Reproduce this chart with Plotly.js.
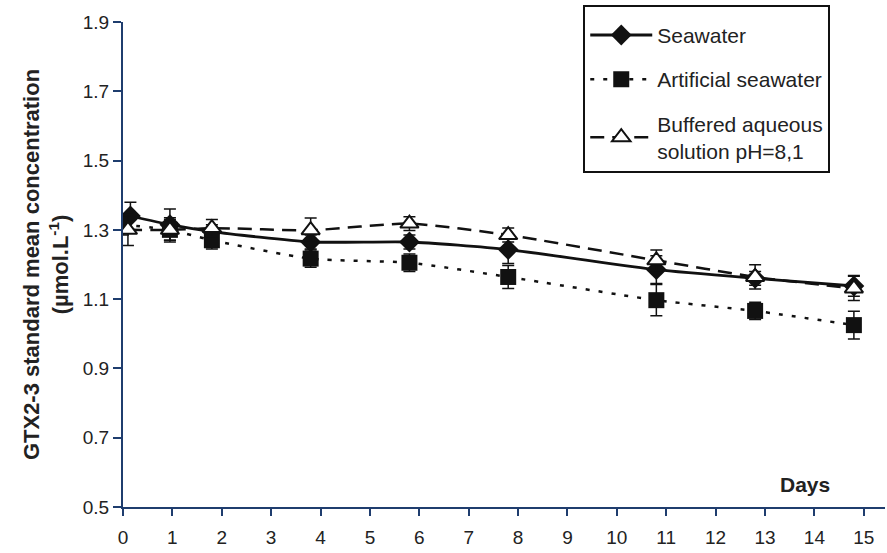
<!DOCTYPE html>
<html>
<head>
<meta charset="utf-8">
<script src="https://cdn.plot.ly/plotly-3.0.1.min.js"></script>
<style>
html,body{margin:0;padding:0;background:#fff;}
#chart{width:887px;height:553px;}
</style>
</head>
<body>
<div id="chart"></div>
<script>
// Data
const seawaterDays = [0.15, 0.95, 1.8, 3.8, 5.8, 7.8, 10.8, 12.8, 14.8];
const seawaterMean = [1.34, 1.315, 1.295, 1.265, 1.265, 1.243, 1.185, 1.16, 1.138];
const seawaterErr  = [0.04, 0.045, 0.02, 0.02, 0.02, 0.04, 0.04, 0.02, 0.03];

const artificialDays = [0.0, 0.95, 1.8, 3.8, 5.8, 7.8, 10.8, 12.8, 14.8];
const artificialMean = [1.315, 1.30, 1.27, 1.217, 1.205, 1.164, 1.097, 1.066, 1.025];
const artificialErr  = [0.03, 0.03, 0.025, 0.025, 0.025, 0.033, 0.045, 0.025, 0.04];

const bufferedDays = [0.1, 0.95, 1.8, 3.8, 5.8, 7.8, 10.8, 12.8, 14.8];
const bufferedMean = [1.30, 1.30, 1.305, 1.299, 1.318, 1.285, 1.212, 1.164, 1.131];
const bufferedErr  = [0.045, 0.035, 0.025, 0.035, 0.02, 0.02, 0.03, 0.035, 0.035];

const seriesNames = ["Seawater", "Artificial seawater", "Buffered aqueous<br>solution pH=8,1"];
const xTickVals = [0,1,2,3,4,5,6,7,8,9,10,11,12,13,14,15];
const yTickVals = [0.5,0.7,0.9,1.1,1.3,1.5,1.7,1.9];

const axisColor = "#1f3d6e";
const font = "Liberation Sans, Arial, sans-serif";

const errStyle = {type:"data", visible:true, color:"#111", thickness:1.5, width:6};

const traces = [
  {
    x: seawaterDays, y: seawaterMean, name: seriesNames[0], type:"scatter", mode:"lines+markers",
    legendgroup:"a",
    line:{color:"#111", width:2.8, shape:"spline", smoothing:0.6},
    marker:{symbol:"diamond", size:16, color:"#111"},
    error_y: Object.assign({array: seawaterErr}, errStyle)
  },
  {
    x: artificialDays, y: artificialMean, name: seriesNames[1], type:"scatter", mode:"lines+markers",
    legendgroup:"b",
    line:{color:"#111", width:2.5, dash:"4px,9px", shape:"spline", smoothing:0.6},
    marker:{symbol:"square", size:16, color:"#111"},
    error_y: Object.assign({array: artificialErr}, errStyle)
  },
  {
    x: bufferedDays, y: bufferedMean, name: seriesNames[2], type:"scatter", mode:"lines+markers",
    legendgroup:"c",
    line:{color:"#111", width:2.5, dash:"14px,8px", shape:"spline", smoothing:0.6},
    marker:{symbol:"triangle-up", size:16, color:"#fff", line:{color:"#111", width:2}},
    error_y: Object.assign({array: bufferedErr}, errStyle)
  }
];

const layout = {
  width: 887, height: 553,
  margin: {l:123, r:2, t:22, b:46},
  paper_bgcolor:"#fff", plot_bgcolor:"#fff",
  font: {family: font, size: 19, color: "#222"},
  showlegend: true,
  legend: {
    x: 0.604, y: 1.035, xanchor:"left", yanchor:"top",
    bordercolor:"#111", borderwidth:2, bgcolor:"#fff",
    font:{family: font, size:21, color:"#222"},
    title:{text:" ", font:{size:6}},
    itemwidth: 62, tracegroupgap: 14, traceorder:"grouped"
  },
  xaxis: {
    range: [0, 15.43], tickvals: xTickVals, ticktext: xTickVals.map(String),
    showline:true, linecolor: axisColor, linewidth:2,
    ticks:"outside", ticklen:7, tickcolor: axisColor, tickwidth:2,
    showgrid:false, zeroline:false, ticklabelstandoff: 5,
    tickfont:{family: font, size:19, color:"#222"}
  },
  yaxis: {
    range: [0.5, 1.9], tickvals: yTickVals, ticktext: yTickVals.map(v => v.toFixed(1)),
    showline:true, linecolor: axisColor, linewidth:2,
    ticks:"outside", ticklen:8, tickcolor: axisColor, tickwidth:2,
    showgrid:false, zeroline:false,
    tickfont:{family: font, size:19, color:"#222"},
    title: {
      text: "<b>GTX2-3 standard mean concentration<br>(µmol.L<sup>-1</sup>)</b>",
      font:{family: font, size:22, color:"#222"},
      standoff: 8
    }
  },
  annotations: [
    {text:"<b>Days</b>", xref:"x", yref:"y", x:13.8, y:0.565, showarrow:false,
     font:{family: font, size:21, color:"#222"}, xanchor:"center", yanchor:"middle"}
  ]
};

Plotly.newPlot("chart", traces, layout, {displayModeBar:false, staticPlot:true});
</script>
</body>
</html>
